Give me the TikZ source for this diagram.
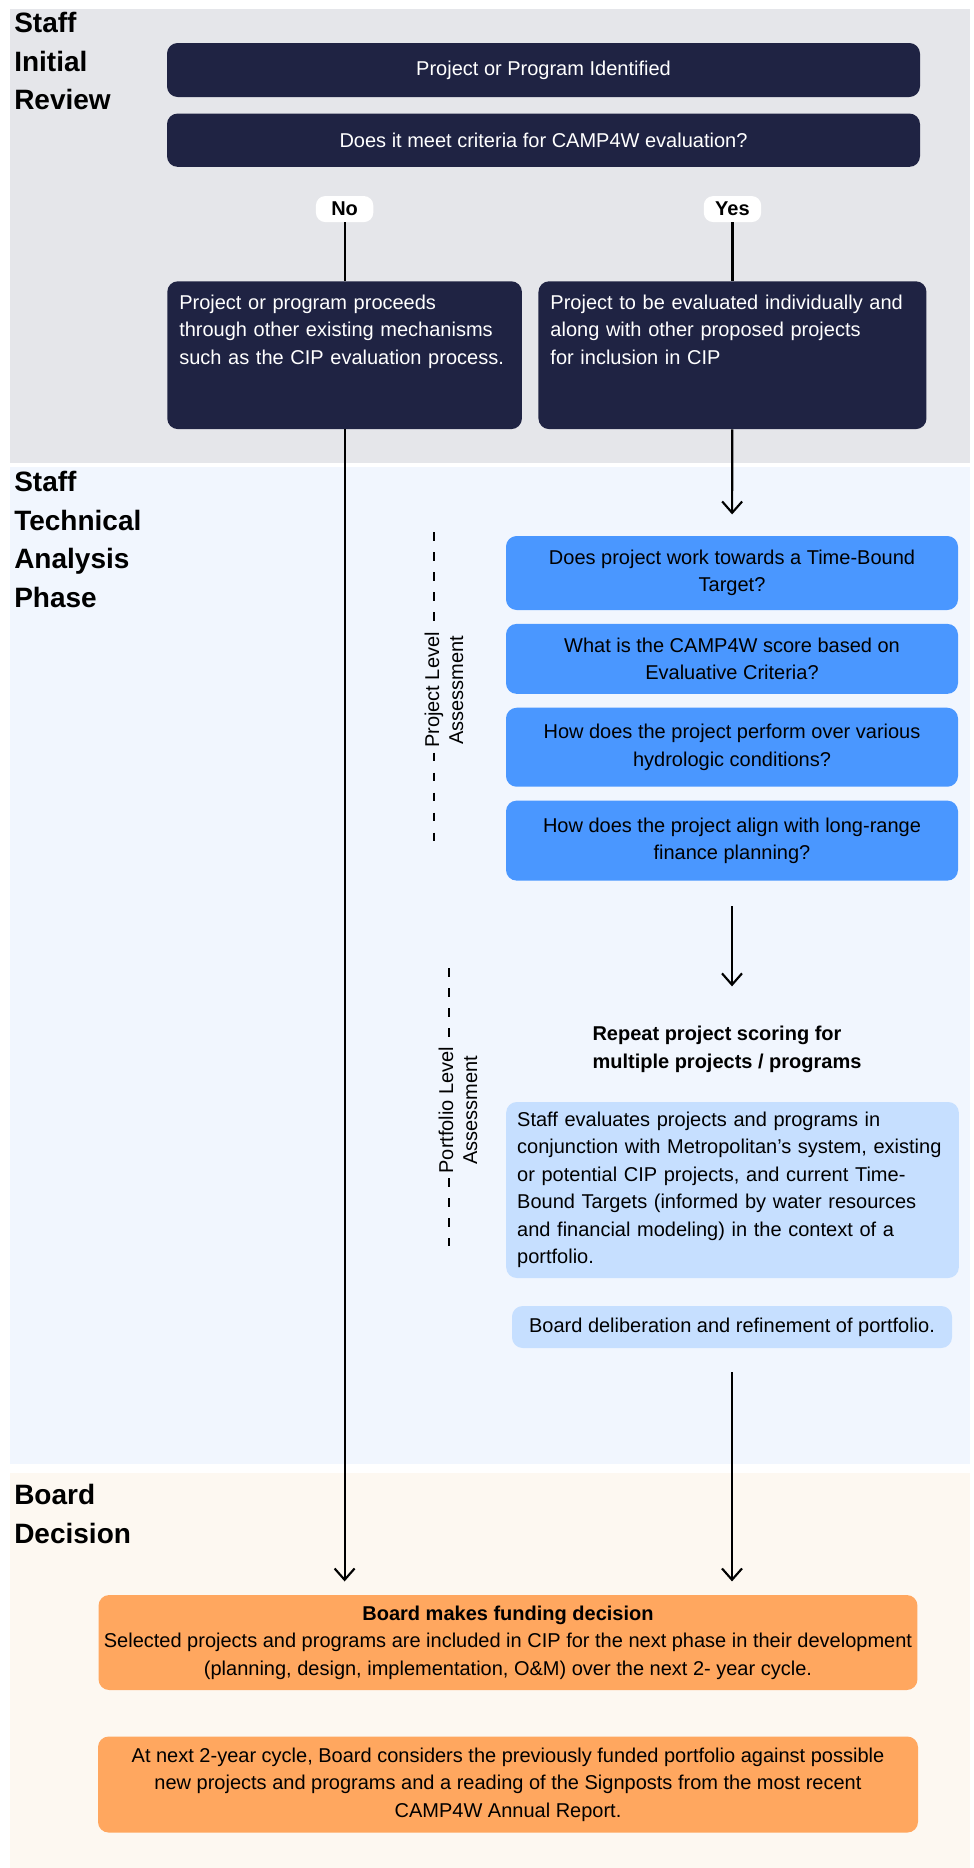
\documentclass[tikz,border=0pt]{standalone}
\usepackage{fontspec}
\setmainfont{Liberation Sans}
\usetikzlibrary{arrows.meta, positioning}
\definecolor{navy}{HTML}{1F2343}
\definecolor{bandgray}{HTML}{E5E6EA}
\definecolor{bandblue}{HTML}{F1F6FE}
\definecolor{bandorange}{HTML}{FDF8F1}
\definecolor{qblue}{HTML}{4A97FF}
\definecolor{paleblue}{HTML}{C6DFFF}
\definecolor{orangefill}{HTML}{FFA75F}
\newcommand{\bodyfont}{\fontsize{15}{20.6}\selectfont}

\begin{document}
\begin{tikzpicture}[
  x=0.75pt, y=-0.75pt,
  box/.style={rounded corners=8pt, inner sep=6pt, align=center, font=\bodyfont},
  navybox/.style={box, fill=navy, text=white},
  qbox/.style={box, fill=qblue, minimum width=339pt},
  palebox/.style={box, fill=paleblue},
  orangebox/.style={box, fill=orangefill},
  pill/.style={fill=white, rounded corners=7pt, inner sep=2pt, minimum width=43pt,
               minimum height=19.5pt, font=\fontsize{15}{18}\selectfont\bfseries},
  phase/.style={anchor=north west, inner sep=0pt, align=left,
                font=\fontsize{21}{28.9}\selectfont\bfseries},
  lvl/.style={rotate=90, align=center, font=\fontsize{15}{18}\selectfont},
  link/.style={line width=1.6pt},
  arr/.style={link, -{Straight Barb[length=8.5pt, width=15pt]}},
  dashline/.style={line width=2pt, dash pattern=on 6.5pt off 8.5pt},
  node distance=10pt
]
\useasboundingbox (0,0) rectangle (974,1868);
\fill[white] (0,0) rectangle (974,1868);

% phase bands
\fill[bandgray] (10,9) rectangle (970,463);
\fill[bandblue] (10,467) rectangle (970,1464);
\fill[bandorange] (10,1473) rectangle (970,1868);

\node[phase] (initLbl) at (14,12) {Staff\\Initial\\Review};
\node[phase] (techLbl) at (14,471) {Staff\\Technical\\Analysis\\Phase};
\node[phase] (boardLbl) at (14,1484) {Board\\Decision};

% initial review
\node[navybox, minimum width=564.75pt, minimum height=40.5pt] (ident) at (543.5,70) {Project or Program Identified};
\node[navybox, minimum width=564.75pt, minimum height=40pt, below=12pt of ident] (crit) {Does it meet criteria for CAMP4W evaluation?};

\node[navybox, anchor=north west, align=left, text width=248pt, inner xsep=9pt, inner ysep=10pt,
      text depth=80pt] (noBox) at (167,281) {Project or program proceeds\\
  through other existing mechanisms\\such as the CIP evaluation process.};
\node[navybox, right=12pt of noBox, align=left, text width=273pt, inner xsep=9pt, inner ysep=10pt,
      text depth=80pt] (yesBox) {Project to be evaluated individually and\\
  along with other proposed projects\\for inclusion in CIP};

\node[pill, above=44pt of noBox] (no) {No};
\node[pill, above=44pt of yesBox] (yes) {Yes};

% project level
\node[qbox, minimum height=55.5pt] (qTarget) at (732,573) {Does project work towards a Time-Bound\\Target?};
\node[qbox, minimum height=52.5pt, below=of qTarget] (qScore) {What is the CAMP4W score based on\\Evaluative Criteria?};
\node[qbox, minimum height=59.25pt, below=of qScore] (qHydro) {How does the project perform over various\\hydrologic conditions?};
\node[qbox, minimum height=60pt, below=of qHydro] (qFinance) {How does the project align with long-range\\finance planning?};

\node[lvl] (projLvl) at (444,690) {Project Level\\Assessment};
\coordinate (projTop) at (434,532);
\coordinate (projBot) at (434,852);
\draw[dashline] (projTop) -- (projTop |- projLvl.east);
\draw[dashline] (projTop |- projLvl.west) -- (projBot);

% portfolio level
\node[anchor=north, align=left, font=\fontsize{15}{21}\selectfont\bfseries] (repeat) at (727,1021)
  {Repeat project scoring for\\multiple projects / programs};
\node[palebox, align=left, text width=323pt, inner xsep=8.25pt, minimum height=132pt] (staffEval) at (732.5,1190)
  {Staff evaluates projects and programs in\\conjunction with Metropolitan’s system, existing\\
   or potential CIP projects, and current Time-\\Bound Targets (informed by water resources\\
   and financial modeling) in the context of a\\portfolio.};
\node[palebox, inner xsep=3pt, minimum width=330pt, minimum height=31.5pt] (boardDelib) at (732,1327)
  {Board deliberation and refinement of portfolio.};

\node[lvl] (portLvl) at (458,1110) {Portfolio Level\\Assessment};
\coordinate (portTop) at (449,968);
\coordinate (portBot) at (449,1246);
\draw[dashline] (portTop) -- (portTop |- portLvl.east);
\draw[dashline] (portTop |- portLvl.west) -- (portBot);

% board decision
\node[orangebox, inner xsep=4pt, minimum width=612pt, minimum height=71.25pt] (fund) at (508,1642.5)
  {\textbf{Board makes funding decision}\\
   Selected projects and programs are included in CIP for the next phase in their development\\
   (planning, design, implementation, O\&M) over the next 2- year cycle.};
\node[orangebox, inner xsep=4pt, minimum width=615pt, minimum height=72pt, below=34.5pt of fund] (nextCycle)
  {At next 2-year cycle, Board considers the previously funded portfolio against possible\\
   new projects and programs and a reading of the Signposts from the most recent\\
   CAMP4W Annual Report.};

\draw[link] (no) -- (noBox);
\draw[link] (yes) -- (yesBox);
\draw[arr, shorten >=16pt] (yesBox) -- (qTarget);
\draw[arr, shorten <=19pt, shorten >=26pt] (qFinance.south) -- (qFinance.south |- repeat.north);
\draw[arr, shorten <=18pt, shorten >=10pt] (boardDelib.south) -- (boardDelib.south |- fund.north);
\draw[arr, shorten >=10pt] (noBox.south) -- (noBox.south |- fund.north);
\end{tikzpicture}
\end{document}
